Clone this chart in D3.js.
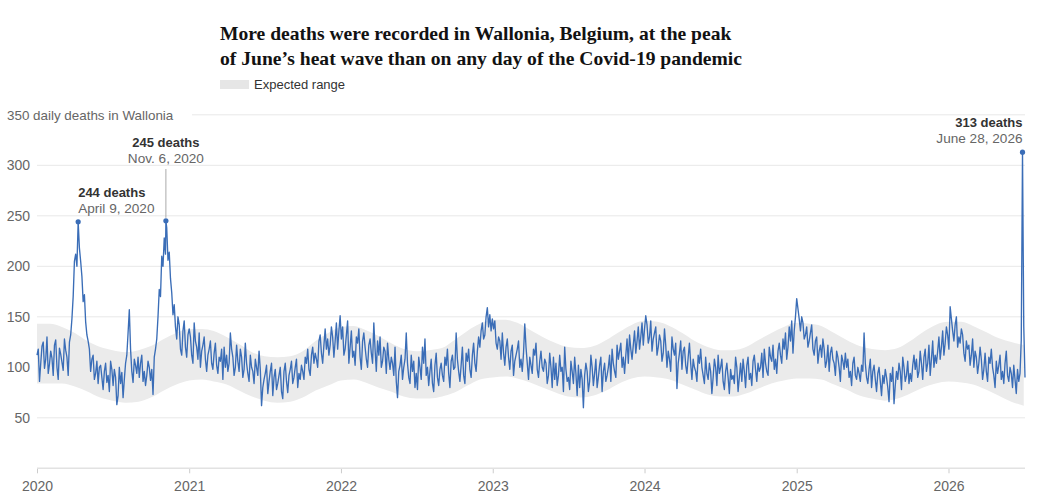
<!DOCTYPE html>
<html><head><meta charset="utf-8">
<script src="https://cdn.jsdelivr.net/npm/d3@7"></script>
<style>
html,body{margin:0;padding:0;background:#fff;}
svg{display:block;}
</style></head><body>
<svg id="chart" width="1045" height="497"></svg>
<script>
// ---- DATA ----
const startDate = "2020-01-01";   // first sample of the daily-deaths series
const stepDays = 3;               // spacing of the samples
const endDate = "2026-07-04";

const deaths2020 = [
  112, 118, 86, 104, 121, 125, 99, 108, 130, 94, 103,
  116, 109, 92, 122, 127, 100, 88, 119, 113,
  105, 97, 128, 117, 110, 92, 125, 132, 148, 170, 205,
  212, 200, 244, 218, 205, 190, 165, 172, 145, 132,
  126, 118, 96, 108, 112, 88, 94, 106, 84, 100,
  102, 90, 78, 96, 104, 85, 92, 76, 106, 98,
  82, 98, 90, 63, 72, 100, 84, 95, 70, 88,
  104, 112, 134, 157, 118, 96, 85, 108, 102, 94, 110,
  90, 104, 112, 86, 96, 82, 92, 106, 100, 87,
  98, 73, 110, 118, 128, 150, 177, 170, 210, 200,
  228, 212, 238, 206, 214, 188, 174, 152, 162, 140,
  128, 150, 142, 118, 112, 136, 146, 120, 110, 132
];
const deaths2021 = [
  138, 130, 112, 104, 144, 126, 120, 108, 134, 100, 116,
  122, 130, 108, 96, 112, 118, 126, 104, 98,
  114, 124, 102, 94, 110, 106, 118, 88, 120, 100,
  112, 96, 104, 134, 118, 110, 92, 100, 122, 106,
  96, 118, 110, 90, 98, 124, 104, 94, 86, 112, 100,
  96, 84, 108, 100, 92, 116, 98, 62, 80, 88,
  94, 102, 74, 86, 96, 104, 72, 90, 98, 78,
  84, 92, 100, 76, 69, 96, 104, 86, 75, 92,
  98, 106, 84, 90, 100, 108, 80, 94, 88, 102,
  96, 88, 110, 104, 118, 98, 92, 112, 120, 104, 114,
  108, 100, 126, 132, 114, 104, 122, 138, 118, 128,
  112, 122, 140, 130, 110, 126, 144, 118, 136, 151
];
const deaths2022 = [
  128, 140, 112, 118, 132, 146, 104, 120, 136, 110,
  116, 102, 130, 124, 138, 110, 98, 126, 134, 120,
  108, 100, 122, 128, 114, 104, 144, 118, 96, 126,
  112, 130, 100, 106, 120, 116, 94, 124, 108, 98,
  110, 104, 92, 120, 86, 70, 96, 102, 112, 88,
  100, 108, 134, 104, 90, 84, 112, 96, 106, 80,
  94, 78, 110, 100, 88, 120, 104, 128, 92, 100, 82,
  96, 108, 84, 76, 102, 114, 90, 82, 98, 104,
  92, 86, 110, 102, 118, 94, 80, 106, 112, 98,
  100, 134, 108, 96, 86, 102, 120, 92, 84, 114,
  106, 118, 98, 90, 112, 124, 104, 96, 116, 130,
  120, 136, 144, 128, 132, 150, 159, 140, 152, 136, 148
];
const deaths2023 = [
  138, 146, 124, 118, 130, 126, 108, 134, 114, 102,
  120, 128, 110, 98, 116, 122, 92, 106, 112,
  118, 126, 100, 108, 96, 114, 143, 120, 104, 88, 110,
  102, 94, 118, 112, 124, 98, 90, 106, 116, 100,
  96, 108, 104, 84, 92, 114, 100, 80, 110, 88,
  104, 82, 92, 112, 96, 100, 76, 120, 98, 86,
  90, 78, 106, 96, 84, 110, 94, 72, 102, 80,
  98, 88, 60, 92, 104, 96, 76, 86, 112, 100, 82,
  94, 108, 80, 90, 102, 110, 76, 96, 104, 86,
  92, 100, 112, 86, 118, 104, 96, 90, 122, 108,
  116, 124, 100, 110, 94, 112, 128, 104, 132, 118,
  108, 122, 136, 114, 126, 140, 118, 130, 144, 122
];
const deaths2024 = [
  138, 151, 142, 124, 130, 146, 116, 128, 134, 140, 112,
  120, 132, 126, 106, 114, 138, 122, 100, 116,
  108, 96, 130, 118, 112, 124, 79, 104, 114, 126, 98,
  116, 120, 102, 94, 110, 124, 104, 88, 108, 100,
  96, 86, 112, 104, 118, 100, 92, 84, 110, 94,
  88, 104, 96, 74, 90, 108, 100, 82, 112, 94,
  100, 108, 86, 78, 96, 104, 90, 74, 98, 88,
  92, 84, 110, 100, 76, 90, 104, 86, 108, 96, 80,
  102, 110, 88, 94, 82, 106, 112, 98, 86, 104,
  96, 100, 114, 90, 118, 104, 96, 92, 120, 110,
  106, 122, 98, 108, 94, 116, 124, 112, 104, 128,
  118, 134, 108, 120, 140, 126, 146, 114, 136, 150
];
const deaths2025 = [
  168, 158, 148, 136, 150, 144, 128, 132, 140, 120, 126,
  134, 142, 118, 112, 126, 130, 104, 116, 122,
  110, 128, 118, 100, 106, 122, 96, 114, 120, 108,
  104, 92, 116, 110, 100, 86, 112, 106, 98, 114,
  100, 108, 90, 96, 82, 104, 110, 92, 88, 100, 94,
  86, 102, 96, 134, 104, 90, 84, 98, 108, 80,
  96, 102, 88, 76, 94, 100, 86, 72, 92, 84,
  98, 90, 80, 66, 94, 86, 100, 64, 82, 96,
  88, 104, 96, 78, 110, 100, 86, 92, 106, 84,
  94, 86, 102, 112, 98, 108, 90, 96, 116, 104, 88,
  110, 118, 96, 104, 122, 92, 108, 126, 100, 112,
  104, 116, 130, 108, 120, 136, 112, 124, 140, 132
];
const deaths2026 = [
  118, 160, 148, 136, 126, 142, 150, 120, 130, 124,
  138, 132, 114, 106, 126, 118, 122, 102, 112, 128,
  100, 116, 110, 94, 104, 120, 108, 88, 98, 114,
  96, 86, 110, 104, 118, 100, 92, 80, 106, 94,
  102, 112, 88, 96, 84, 104, 116, 92, 86, 100,
  94, 80, 102, 88, 74, 98, 86, 94, 127, 313,
  141, 90
];

// Expected range, read on the 1st of each month from Jan 2020 to Jul 2026
const bandUpper = [
  143, 143, 140, 134, 126, 120, 117, 115, 117, 121, 128, 134,
  138, 138, 136, 130, 123, 115, 111, 110, 111, 116, 126, 134,
  140, 141, 137, 131, 124, 118, 116, 117, 119, 127, 136, 143,
  147, 147, 144, 137, 130, 124, 120, 119, 121, 127, 135, 142,
  146, 145, 141, 134, 126, 120, 117, 117, 120, 127, 134, 140,
  144, 143, 141, 134, 127, 121, 118, 117, 119, 126, 135, 142,
  145, 145, 141, 135, 129, 125, 122
];
const bandLower = [
  84, 84, 84, 81, 76, 70, 67, 65, 66, 70, 77, 83,
  87, 88, 86, 83, 77, 71, 67, 65, 66, 70, 77, 82,
  87, 88, 85, 80, 76, 71, 69, 69, 71, 75, 82, 88,
  90, 91, 89, 85, 80, 75, 71, 70, 72, 77, 84, 89,
  91, 90, 88, 83, 78, 73, 71, 71, 74, 79, 84, 87,
  89, 89, 88, 83, 78, 72, 69, 67, 69, 74, 80, 84,
  86, 85, 83, 78, 72, 66, 62
];

const yTicks = [50, 100, 150, 200, 250, 300, 350];
const yAxisLabel = "daily deaths in Wallonia";
const xTickYears = [2020, 2021, 2022, 2023, 2024, 2025, 2026];

const peaks = [
  {date: "2020-04-09", value: 244, label: "244 deaths", sub: "April 9, 2020"},
  {date: "2020-11-06", value: 245, label: "245 deaths", sub: "Nov. 6, 2020"},
  {date: "2026-06-28", value: 313, label: "313 deaths", sub: "June 28, 2026"}
];

const titleLines = [
  "More deaths were recorded in Wallonia, Belgium, at the peak",
  "of June\u2019s heat wave than on any day of the Covid-19 pandemic"
];
const legendLabel = "Expected range";

// ---- BUILD ----
const parse = d3.utcParse("%Y-%m-%d");
const t0 = parse(startDate);
const deaths = [].concat(deaths2020, deaths2021, deaths2022, deaths2023, deaths2024, deaths2025, deaths2026);
let series = deaths.map((v, i) => ({date: d3.utcDay.offset(t0, i * stepDays), value: v}));
peaks.forEach(p => {
  const d = parse(p.date);
  series = series.filter(s => +s.date !== +d);
  series.push({date: d, value: p.value});
});
series.sort((a, b) => a.date - b.date);

const band = bandUpper.map((u, i) => ({date: d3.utcMonth.offset(t0, i), hi: u, lo: bandLower[i]}));

const svg = d3.select("#chart");
const sans = "'Liberation Sans', Arial, Helvetica, sans-serif";

const x = d3.scaleUtc().domain([t0, parse(endDate)]).range([37, 1025]);
const y = d3.scaleLinear().domain([0, 350]).range([468.3, 114.8]);

// gridlines + y labels
const gy = svg.append("g");
yTicks.forEach(t => {
  const top = t === yTicks[yTicks.length - 1];
  gy.append("line")
    .attr("x1", top ? 192 : 37).attr("x2", 1025)
    .attr("y1", y(t)).attr("y2", y(t))
    .attr("stroke", "#e8e8e8").attr("stroke-width", 1);
  gy.append("text")
    .attr("x", top ? 7 : 30).attr("y", y(t) + 5)
    .attr("text-anchor", top ? "start" : "end")
    .attr("font-family", sans).attr("font-size", top ? 13.4 : 14)
    .attr("fill", "#666")
    .text(top ? t + " " + yAxisLabel : t);
});

// band (over gridlines, as in the reference)
svg.append("path")
  .datum(band)
  .attr("fill", "#ebebeb")
  .attr("d", d3.area().x(d => x(d.date)).y0(d => y(d.lo)).y1(d => y(d.hi)).curve(d3.curveMonotoneX));

// x axis
const xAxis = d3.axisBottom(x)
  .tickValues(xTickYears.map(yv => new Date(Date.UTC(yv, 0, 1))))
  .tickFormat(d3.utcFormat("%Y"))
  .tickSize(5).tickPadding(5);
const gx = svg.append("g").attr("transform", `translate(0,${y(0)})`).call(xAxis);
gx.select(".domain").remove();
gx.selectAll(".tick line").attr("stroke", "#ccc");
gx.selectAll(".tick text").attr("font-family", sans).attr("font-size", 14).attr("fill", "#666").attr("dy", "0.9em");
svg.append("line")
  .attr("x1", 37).attr("x2", 1025).attr("y1", y(0)).attr("y2", y(0))
  .attr("stroke", "#e2e2e2").attr("stroke-width", 1.5);

// deaths line
svg.append("path")
  .datum(series)
  .attr("fill", "none")
  .attr("stroke", "#3a6db7")
  .attr("stroke-width", 1.35)
  .attr("stroke-linejoin", "round")
  .attr("d", d3.line().x(d => x(d.date)).y(d => y(d.value)));

// annotations
const anchors = ["start", "middle", "end"];
peaks.forEach((p, i) => {
  const px = x(parse(p.date)), py = y(p.value);
  const g = svg.append("g");
  let ly, sy;
  if (i === 1) {
    ly = 147; sy = 163;
    g.append("line").attr("x1", px).attr("x2", px).attr("y1", 169).attr("y2", py - 3)
      .attr("stroke", "#aaa").attr("stroke-width", 1);
  } else {
    ly = py - 25; sy = py - 9;
  }
  g.append("circle").attr("cx", px).attr("cy", py).attr("r", 2.6).attr("fill", "#3a6db7");
  g.append("text").attr("x", px).attr("y", ly).attr("text-anchor", anchors[i])
    .attr("font-family", sans).attr("font-size", 13).attr("font-weight", "bold").attr("fill", "#333")
    .text(p.label);
  g.append("text").attr("x", px).attr("y", sy).attr("text-anchor", anchors[i])
    .attr("font-family", sans).attr("font-size", 13.6).attr("fill", "#666")
    .text(p.sub);
});

// title
const tg = svg.append("g");
const tl = titleLines.map((t, i) => tg.append("text")
  .attr("x", 220).attr("y", i === 0 ? 40 : 65)
  .attr("font-family", "'Liberation Serif', 'DejaVu Serif', serif")
  .attr("font-weight", "bold").attr("font-size", 20).attr("fill", "#121212")
  .text(t));
const maxW = d3.max(tl, t => t.node().getComputedTextLength());
const fs = 20 * 522 / maxW;
tl.forEach(t => t.attr("font-size", fs));

// legend
svg.append("rect").attr("x", 220).attr("y", 80).attr("width", 29).attr("height", 9).attr("fill", "#e6e6e6");
svg.append("text").attr("x", 254).attr("y", 89)
  .attr("font-family", sans).attr("font-size", 13).attr("fill", "#333")
  .text(legendLabel);
</script>
</body></html>
